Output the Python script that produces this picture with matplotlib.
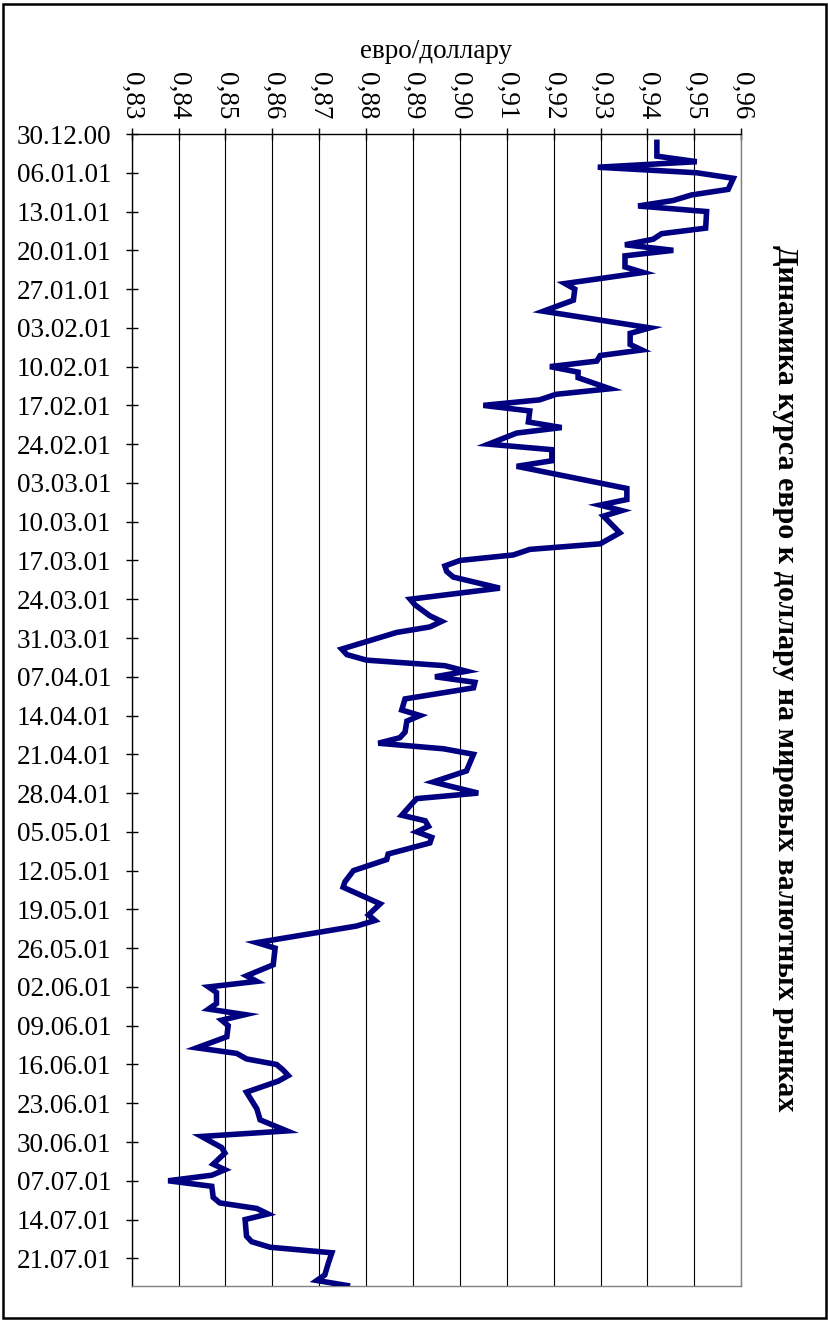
import datetime as dt
import matplotlib
matplotlib.use("Agg")
import matplotlib.pyplot as plt
from matplotlib.patches import Rectangle

# ---- data ----
dates = [
    "31.12.00", "03.01.01", "04.01.01", "05.01.01", "06.01.01", "07.01.01", "09.01.01",
    "10.01.01", "11.01.01", "12.01.01", "13.01.01", "16.01.01", "17.01.01", "18.01.01",
    "19.01.01", "20.01.01", "21.01.01", "23.01.01", "24.01.01", "26.01.01", "27.01.01",
    "29.01.01", "31.01.01", "03.02.01", "04.02.01", "06.02.01", "07.02.01", "08.02.01",
    "09.02.01", "10.02.01", "11.02.01", "12.02.01", "14.02.01", "15.02.01", "16.02.01",
    "17.02.01", "18.02.01", "20.02.01", "21.02.01", "22.02.01", "24.02.01", "25.02.01",
    "27.02.01", "28.02.01", "04.03.01", "06.03.01", "07.03.01", "08.03.01", "09.03.01",
    "12.03.01", "14.03.01", "15.03.01", "16.03.01", "17.03.01", "18.03.01", "19.03.01",
    "20.03.01", "22.03.01", "24.03.01", "25.03.01", "27.03.01", "28.03.01", "29.03.01",
    "30.03.01", "02.04.01", "03.04.01", "04.04.01", "05.04.01", "06.04.01", "07.04.01",
    "08.04.01", "09.04.01", "11.04.01", "13.04.01", "14.04.01", "15.04.01", "17.04.01",
    "18.04.01", "19.04.01", "20.04.01", "21.04.01", "24.04.01", "26.04.01", "28.04.01",
    "29.04.01", "30.04.01", "02.05.01", "03.05.01", "04.05.01", "05.05.01", "06.05.01",
    "07.05.01", "09.05.01", "10.05.01", "12.05.01", "14.05.01", "15.05.01", "18.05.01",
    "20.05.01", "21.05.01", "22.05.01", "25.05.01", "26.05.01", "29.05.01", "31.05.01",
    "01.06.01", "02.06.01", "03.06.01", "05.06.01", "06.06.01", "07.06.01", "08.06.01",
    "09.06.01", "11.06.01", "13.06.01", "14.06.01", "15.06.01", "16.06.01", "17.06.01",
    "18.06.01", "19.06.01", "21.06.01", "24.06.01", "26.06.01", "28.06.01", "29.06.01",
    "01.07.01", "02.07.01", "04.07.01", "05.07.01", "06.07.01", "07.07.01", "08.07.01",
    "10.07.01", "11.07.01", "12.07.01", "13.07.01", "14.07.01", "17.07.01", "18.07.01",
    "19.07.01", "20.07.01", "22.07.01", "24.07.01", "25.07.01", "26.07.01",
]
rates = [
    0.9420, 0.9420, 0.9505, 0.9294, 0.9505, 0.9583, 0.9572,
    0.9494, 0.9455, 0.9380, 0.9526, 0.9524, 0.9430, 0.9412,
    0.9352, 0.9455, 0.9352, 0.9352, 0.9391, 0.9224, 0.9245,
    0.9242, 0.9178, 0.9405, 0.9363, 0.9363, 0.9388, 0.9299,
    0.9292, 0.9192, 0.9252, 0.9252, 0.9320, 0.9205, 0.9170,
    0.9050, 0.9149, 0.9146, 0.9217, 0.9121, 0.9061, 0.9196,
    0.9196, 0.9121, 0.9356, 0.9356, 0.9299, 0.9345, 0.9306,
    0.9341, 0.9299, 0.9149, 0.9114, 0.9000, 0.8968, 0.8972,
    0.8986, 0.9085, 0.8894, 0.8904, 0.8936, 0.8961, 0.8936,
    0.8865, 0.8748, 0.8759, 0.8801, 0.8968, 0.9014, 0.8947,
    0.9032, 0.9029, 0.8883, 0.8876, 0.8915, 0.8887, 0.8883,
    0.8872, 0.8826, 0.8965, 0.9029, 0.9014, 0.8943, 0.9039,
    0.8908, 0.8897, 0.8876, 0.8926, 0.8933, 0.8908, 0.8940,
    0.8936, 0.8847, 0.8844, 0.8773, 0.8755, 0.8751, 0.8830,
    0.8805, 0.8819, 0.8780, 0.8567, 0.8606, 0.8602, 0.8545,
    0.8567, 0.8464, 0.8481, 0.8481, 0.8464, 0.8542, 0.8492,
    0.8506, 0.8503, 0.8439, 0.8524, 0.8545, 0.8609, 0.8623,
    0.8634, 0.8613, 0.8545, 0.8567, 0.8574, 0.8631, 0.8449,
    0.8492, 0.8499, 0.8474, 0.8499, 0.8471, 0.8378, 0.8471,
    0.8474, 0.8488, 0.8567, 0.8591, 0.8542, 0.8545, 0.8556,
    0.8595, 0.8727, 0.8719, 0.8712, 0.8695, 0.8766,
]
value_ticks = [0.83, 0.84, 0.85, 0.86, 0.87, 0.88, 0.89, 0.90, 0.91, 0.92, 0.93, 0.94, 0.95, 0.96]
value_tick_labels = ["0,83", "0,84", "0,85", "0,86", "0,87", "0,88", "0,89", "0,90",
                     "0,91", "0,92", "0,93", "0,94", "0,95", "0,96"]
axis_start = "30.12.00"
axis_end = "26.07.01"
value_label = "евро/доллару"
title = "Динамика курса евро к доллару на мировых валютных рынках"

# ---- figure ----
plt.rcParams["font.family"] = ["Liberation Serif", "DejaVu Serif"]

def parse(s):
    return dt.datetime.strptime(s, "%d.%m.%y").date()

base = parse(axis_start)
end = parse(axis_end)
days = [(parse(d) - base).days for d in dates]
n_days = (end - base).days
tick_days = list(range(0, n_days, 7))
tick_labels = [(base + dt.timedelta(days=d)).strftime("%d.%m.%y") for d in tick_days]

W, H = 829, 1322
fig = plt.figure(figsize=(W / 100, H / 100), dpi=100)
fig.patch.set_facecolor("white")

left, right, top, bottom = 131.6, 741.3, 134, 1286
ax = fig.add_axes([left / W, 1 - bottom / H, (right - left) / W, (bottom - top) / H])

ax.plot(rates, days, color="#000080", lw=4.0, solid_joinstyle="miter",
        solid_capstyle="butt", zorder=3)

ax.set_xlim(value_ticks[0], value_ticks[-1])
ax.set_ylim(n_days, 0)

ax.xaxis.tick_top()
ax.set_xticks(value_ticks)
ax.set_xticklabels(value_tick_labels, rotation=-90)
ax.set_yticks(tick_days)
ax.set_yticklabels(tick_labels)

ax.tick_params(axis="both", direction="inout", length=9, width=1, colors="black",
               labelsize=19.5)
ax.tick_params(axis="x", pad=6, bottom=False, labelbottom=False, top=True, labeltop=True)
ax.tick_params(axis="y", pad=10, right=False)

ax.grid(axis="x", color="black", lw=0.8, zorder=1)
ax.grid(axis="y", visible=False)

for side in ("left", "top"):
    ax.spines[side].set_color("black")
    ax.spines[side].set_linewidth(1.0)
for side in ("right", "bottom"):
    ax.spines[side].set_color("#808080")
    ax.spines[side].set_linewidth(1.0)

ax.xaxis.set_label_position("top")
ax.set_xlabel(value_label, fontsize=19.5, labelpad=10)

fig.text(785 / W, 1 - 678 / H, title, rotation=-90, fontsize=21.6, fontweight="bold",
         ha="center", va="center")

fig.patches.append(Rectangle((3 / W, 4 / H), (826 - 3) / W, (1318 - 4) / H,
                             transform=fig.transFigure, fill=False, ec="black", lw=1.8))

fig.savefig("out.png", dpi=100)
